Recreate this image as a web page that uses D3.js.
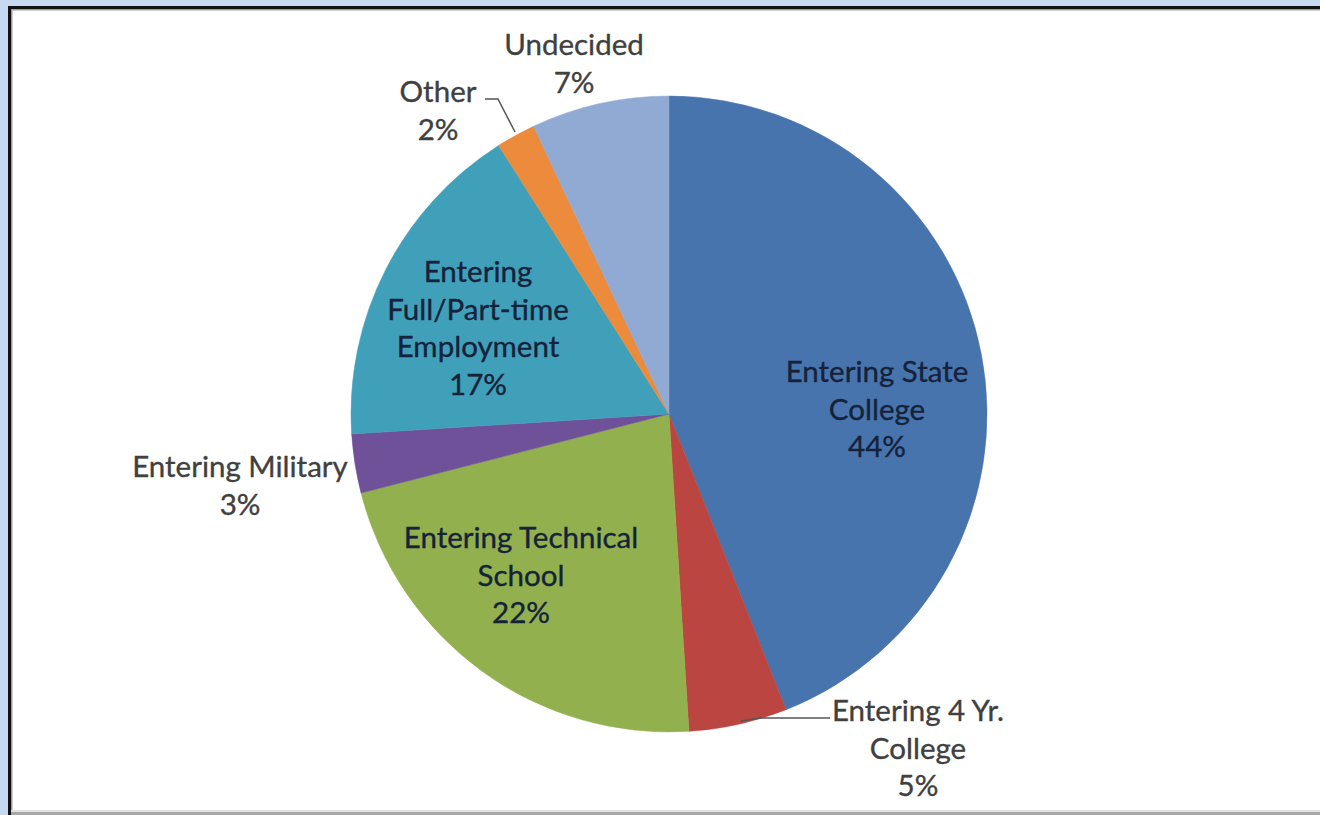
<!DOCTYPE html>
<html>
<head>
<meta charset="utf-8">
<script src="https://cdn.jsdelivr.net/npm/d3@7"></script>
<style>
  html, body { margin: 0; padding: 0; background: #c6d9f1; }
  svg { display: block; }
  .lbl { font-family: Lato, "Open Sans", sans-serif; font-size: 29.5px; stroke-width: 0.35px; }
</style>
</head>
<body>
<div id="chart"></div>
<script>
var svgWidth = 1320;
var svgHeight = 815;

// data
var categories = ["Entering State College", "Entering 4 Yr. College", "Entering Technical School",
    "Entering Military", "Entering Full/Part-time Employment", "Other", "Undecided"];
var values = [44, 5, 22, 3, 17, 2, 7];
var labelLines = [
    ["Entering State", "College", "44%"],
    ["Entering 4 Yr.", "College", "5%"],
    ["Entering Technical", "School", "22%"],
    ["Entering Military", "3%"],
    ["Entering", "Full/Part-time", "Employment", "17%"],
    ["Other", "2%"],
    ["Undecided", "7%"]
];
var colors = ["#4874ad", "#bb4540", "#92b04e", "#6f519a", "#40a0ba", "#eb8b3b", "#90aad3"];

// layout
var cx = 669, cy = 414, radius = 318;
// label anchor (centre of first line) relative to pie centre, inside flag
var labelPos = [
    {dx: 208, dy: -42, inside: true},
    {dx: 249, dy: 297, inside: false},
    {dx: -148, dy: 124, inside: true},
    {dx: -429, dy: 53, inside: false},
    {dx: -191, dy: -142, inside: true},
    {dx: -231, dy: -322, inside: false},
    {dx: -95, dy: -369, inside: false}
];
var lineHeight = 37.5;

var svg = d3.select("#chart")
    .append("svg")
    .attr("width", svgWidth)
    .attr("height", svgHeight);

// frame
svg.append("rect").attr("x", 0).attr("y", 0).attr("width", svgWidth).attr("height", svgHeight).attr("fill", "#c6d9f1");
svg.append("rect").attr("x", 8).attr("y", 6).attr("width", svgWidth - 8).attr("height", svgHeight - 6).attr("fill", "#111");
svg.append("rect").attr("x", 11).attr("y", 9).attr("width", svgWidth - 11).attr("height", svgHeight - 9).attr("fill", "#9a9a9a");
svg.append("rect").attr("x", 12).attr("y", 10).attr("width", svgWidth - 12).attr("height", svgHeight - 10).attr("fill", "#cfcfcf");
svg.append("rect").attr("x", 13).attr("y", 11).attr("width", svgWidth - 13).attr("height", svgHeight - 15).attr("fill", "#ffffff");
svg.append("rect").attr("x", 11).attr("y", svgHeight - 3).attr("width", svgWidth - 11).attr("height", 3).attr("fill", "#a8a8a8");
svg.append("rect").attr("x", 11).attr("y", svgHeight - 5).attr("width", svgWidth - 11).attr("height", 2).attr("fill", "#e2e2e2");

var chartGroup = svg.append("g")
    .attr("transform", `translate(${cx}, ${cy})`);

var pie = d3.pie().sort(null).value(d => d);
var arcs = pie(values);
var arc = d3.arc().innerRadius(0).outerRadius(radius);

chartGroup.selectAll("path.slice")
    .data(arcs)
    .enter()
    .append("path")
    .attr("class", "slice")
    .attr("d", arc)
    .attr("fill", (d, i) => colors[i])
    .attr("stroke", (d, i) => colors[i])
    .attr("stroke-width", 0.5);

// leader lines
var leaders = [
    {i: 5, pts: [[-184, -315], [-171, -315], [-154, -282]]},
    {i: 1, pts: [[72, 307], [91, 304], [161, 304]]}
];
chartGroup.selectAll("polyline.leader")
    .data(leaders)
    .enter()
    .append("polyline")
    .attr("class", "leader")
    .attr("points", d => d.pts.map(p => p.join(",")).join(" "))
    .attr("fill", "none")
    .attr("stroke", "#555")
    .attr("stroke-width", 1.5);

// labels
var labels = chartGroup.selectAll("text.lbl")
    .data(arcs)
    .enter()
    .append("text")
    .attr("class", "lbl")
    .attr("text-anchor", "middle")
    .attr("fill", (d, i) => labelPos[i].inside ? "#15223a" : "#404040")
    .attr("stroke", (d, i) => labelPos[i].inside ? "#15223a" : "#404040");

labels.each(function (d, i) {
    var t = d3.select(this);
    labelLines[i].forEach(function (line, k) {
        t.append("tspan")
            .attr("x", labelPos[i].dx)
            .attr("y", labelPos[i].dy + k * lineHeight + 10)
            .text(line);
    });
});
</script>
</body>
</html>
